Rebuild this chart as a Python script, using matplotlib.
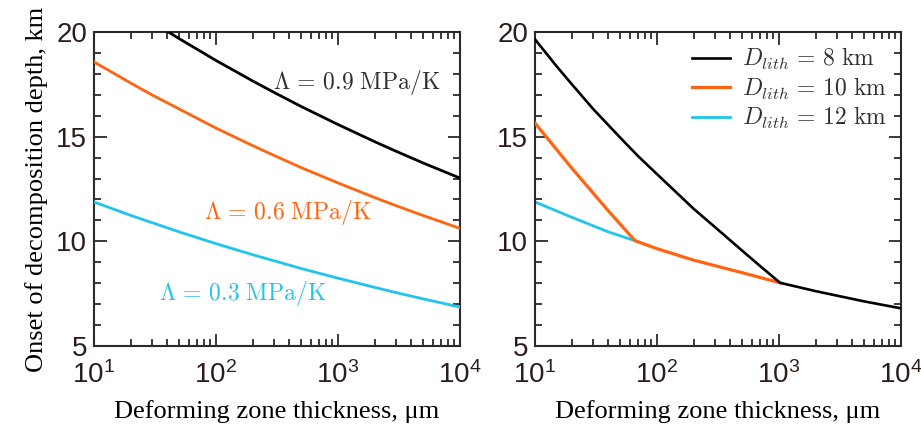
import matplotlib
matplotlib.use("Agg")
import matplotlib.pyplot as plt
import matplotlib.ticker as tick

plt.rcParams['font.family'] = ['Liberation Sans', 'DejaVu Sans']
plt.rcParams['mathtext.fontset'] = 'cm'

# thickness of the deforming zone (um) and onset depth (km) for three values of Lambda
x_lam = [10, 20, 30, 50, 100, 200, 300, 500, 1000, 2000, 3000, 5000, 10000]
lam09 = [22.31, 21.14, 20.48, 19.68, 18.64, 17.66, 17.11, 16.44, 15.58, 14.76, 14.30, 13.74, 13.02]
lam06 = [18.57, 17.56, 16.99, 16.32, 15.41, 14.57, 14.10, 13.52, 12.79, 12.09, 11.70, 11.23, 10.62]
lam03 = [11.88, 11.24, 10.89, 10.45, 9.89, 9.36, 9.07, 8.70, 8.24, 7.80, 7.55, 7.25, 6.86]
lam_labels = [r'$\Lambda\, =\, 0.9\ \mathrm{MPa/K}$',
              r'$\Lambda\, =\, 0.6\ \mathrm{MPa/K}$',
              r'$\Lambda\, =\, 0.3\ \mathrm{MPa/K}$']
# where each label sits (x in um, y in km, left edge / vertical centre)
lab_x = [295, 79, 34]
lab_y = [17.6, 11.4, 7.53]

# lithosphere thickness cases
x_d8 = [10, 15, 20, 30, 50, 70, 100, 150, 200, 300, 500, 700, 1020, 2000, 5000, 10000]
d8 = [19.65, 18.37, 17.51, 16.32, 14.95, 14.07, 13.21, 12.24, 11.55, 10.67, 9.55, 8.82,
      8.02, 7.62, 7.13, 6.8]
x_d10 = [10, 20, 40, 66, 100, 200, 500, 1020]
d10 = [15.65, 13.5, 11.45, 10.03, 9.65, 9.1, 8.5, 8.02]
x_d12 = [10, 20, 40, 66]
d12 = [11.88, 11.15, 10.45, 10.03]
d_labels = [r'$D_{lith}\, =\, 8\ \mathrm{km}$',
            r'$D_{lith}\, =\, 10\ \mathrm{km}$',
            r'$D_{lith}\, =\, 12\ \mathrm{km}$']

black = '#000000'
orange = '#ff6410'
cyan = '#22c4ec'
tcol = '#2e1c1c'
scol = '#2a2a2a'
serif = ['Liberation Serif', 'DejaVu Serif']

fig = plt.figure(figsize=(9.21, 4.29), dpi=100)
ax1 = fig.add_axes([94/921, 83/429, 366/921, 314/429])
ax2 = fig.add_axes([535/921, 83/429, 366/921, 314/429])

ax1.plot(x_lam, lam09, color=black, lw=2, zorder=3)
ax1.plot(x_lam, lam06, color=orange, lw=2, zorder=3)
ax1.plot(x_lam, lam03, color=cyan, lw=2, zorder=3)
for s, xx, yy, c in zip(lam_labels, lab_x, lab_y, ['#303030', orange, cyan]):
    ax1.text(xx, yy, s, color=c, fontsize=17, va='center', ha='left')

ax2.plot(x_d12, d12, color=cyan, lw=2, zorder=2, label=d_labels[2])
ax2.plot(x_d10, d10, color=orange, lw=2.3, zorder=3, label=d_labels[1])
ax2.plot(x_d8, d8, color=black, lw=1.9, zorder=4, label=d_labels[0])
h, l = ax2.get_legend_handles_labels()
leg = ax2.legend(h[::-1], l[::-1], loc='upper right', frameon=False, fontsize=17,
                 handlelength=1.6, handletextpad=0.5, labelspacing=0.15,
                 borderaxespad=0.2)
for t in leg.get_texts():
    t.set_color('#303030')

for ax in (ax1, ax2):
    ax.set_xscale('log')
    ax.set_xlim(10, 1e4)
    ax.set_ylim(5, 20)
    ax.set_yticks([5, 10, 15, 20])
    ax.yaxis.set_minor_locator(tick.MultipleLocator(1))
    ax.xaxis.set_major_locator(tick.LogLocator(base=10, numticks=10))
    ax.xaxis.set_minor_locator(tick.LogLocator(base=10, subs=range(2, 10), numticks=10))
    ax.tick_params(which='both', direction='in', top=True, right=True,
                   color=scol, width=1.3)
    ax.tick_params(which='major', length=9, labelsize=20, labelcolor=tcol)
    ax.tick_params(axis='x', which='major', pad=11)
    ax.tick_params(axis='y', which='major', pad=5)
    ax.tick_params(which='minor', length=5)
    for s in ax.spines.values():
        s.set_color(scol)
        s.set_linewidth(1.5)
    ax.set_xlabel('Deforming zone thickness, μm', family=serif,
                  fontsize=19, labelpad=8)

ax1.set_ylabel('Onset of decomposition depth, km', family=serif, fontsize=19, labelpad=6)

fig.savefig('out.png', dpi=100)
